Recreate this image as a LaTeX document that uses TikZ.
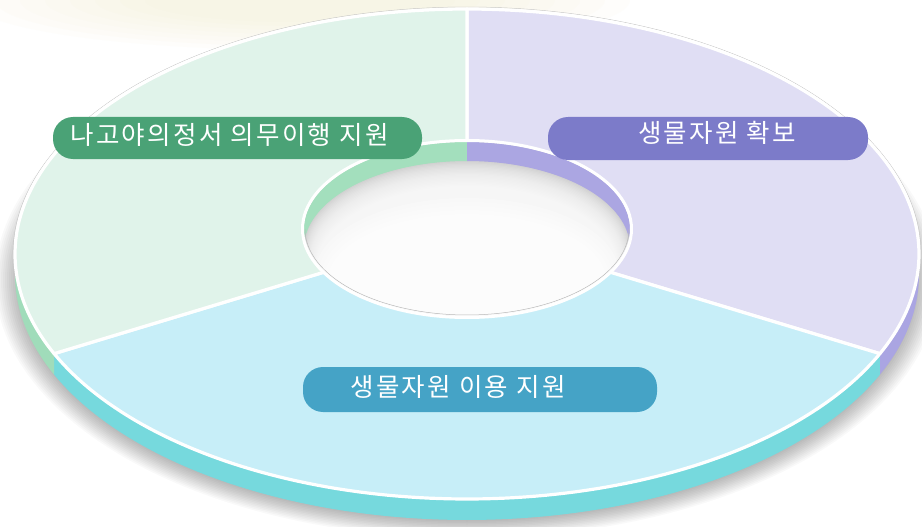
\documentclass[tikz,border=0pt]{standalone}
\usepackage{fontspec}
\newfontfamily\kr[LetterSpace=9]{Noto Sans CJK KR}
\definecolor{topG}{HTML}{E0F3EA}
\definecolor{topP}{HTML}{E0DEF4}
\definecolor{topC}{HTML}{C7EEF8}
\definecolor{sideG}{HTML}{A0DCBA}
\definecolor{sideP}{HTML}{AAA5E2}
\definecolor{sideC}{HTML}{76D9DD}
\definecolor{wallG}{HTML}{A3DFBD}
\definecolor{wallP}{HTML}{ABA6E2}
\definecolor{pillG}{HTML}{4AA276}
\definecolor{pillP}{HTML}{7C7BC9}
\definecolor{pillC}{HTML}{45A3C6}
\definecolor{holeGray}{HTML}{CDCDCD}
\definecolor{bgYel}{HTML}{EFEBC6}
\def\cx{467}\def\cy{254}\def\rx{452}\def\ry{245}\def\th{21}
\def\icx{467}\def\icy{229}\def\irx{163}\def\iry{87}\def\ith{19}
\begin{document}
\begin{tikzpicture}[x=1pt,y=-1pt,
  wedge/.style={draw=white,line width=3.2pt,line join=round},
  pill/.style={rounded corners=20pt,inner sep=0pt,draw=none},
  lbl/.style={text=white,font=\kr\fontsize{25.5}{30}\selectfont,inner sep=0pt}]
\useasboundingbox (0,0) rectangle (922,527);
\fill[white] (0,0) rectangle (922,527);
% faint yellowish texture top-left
\begin{scope}
\clip (0,0) rectangle (922,527);
\foreach \i in {0,...,7}
  \fill[bgYel,opacity=0.06] (300,0) ellipse [x radius={330-\i*25}, y radius={50-\i*4}];
\end{scope}
% shadow
\foreach \i in {0,...,15}
  \fill[black,opacity=0.025] (467,280) ellipse [x radius={472-\i*2}, y radius={258-\i*1.5}];
% outer side bands
\fill[sideP] plot[domain=0:24,samples=20] ({\cx+\rx*cos(\x)},{\cy+\ry*sin(\x)})
  -- plot[domain=24:0,samples=20] ({\cx+\rx*cos(\x)},{\cy+\th+\ry*sin(\x)}) -- cycle;
\fill[sideC] plot[domain=24:156,samples=90] ({\cx+\rx*cos(\x)},{\cy+\ry*sin(\x)})
  -- plot[domain=156:24,samples=90] ({\cx+\rx*cos(\x)},{\cy+\th+\ry*sin(\x)}) -- cycle;
\fill[sideG] plot[domain=156:180,samples=20] ({\cx+\rx*cos(\x)},{\cy+\ry*sin(\x)})
  -- plot[domain=180:156,samples=20] ({\cx+\rx*cos(\x)},{\cy+\th+\ry*sin(\x)}) -- cycle;
% thin gray rim on the top
\draw[gray!45,line width=0.5pt] plot[domain=180:360,samples=120] ({\cx+(\rx+2)*cos(\x)},{\cy+(\ry+2)*sin(\x)});
% top surface wedges
\coordinate (c) at (\icx,\icy);
\filldraw[wedge,fill=topP] (c) -- plot[domain=-90:24,samples=100] ({\cx+\rx*cos(\x)},{\cy+\ry*sin(\x)}) -- cycle;
\filldraw[wedge,fill=topC] (c) -- plot[domain=24:156,samples=100] ({\cx+\rx*cos(\x)},{\cy+\ry*sin(\x)}) -- cycle;
\filldraw[wedge,fill=topG] (c) -- plot[domain=156:270,samples=100] ({\cx+\rx*cos(\x)},{\cy+\ry*sin(\x)}) -- cycle;
% hole
\begin{scope}
\clip (\icx,\icy) ellipse [x radius=\irx, y radius=\iry];
\fill[holeGray] (\icx-\irx-5,\icy-\iry-5) rectangle (\icx+\irx+5,\icy+\iry+5);
\foreach \i in {0,...,32}
  \fill[white,opacity=0.1] (\icx,{\icy+19+\i*1.1}) ellipse [x radius={163-\i*0.6}, y radius={87-\i*0.2}];
\foreach \i in {0,...,9}
  \fill[white,opacity=0.25] (\icx,{\icy+45+\i*2}) ellipse [x radius={152-\i*3}, y radius={76-\i*2}];
\fill[wallG] plot[domain=180:270,samples=60] ({\icx+\irx*cos(\x)},{\icy+\iry*sin(\x)})
  -- plot[domain=270:180,samples=60] ({\icx+\irx*cos(\x)},{\icy+\ith+\iry*sin(\x)}) -- cycle;
\fill[wallP] plot[domain=270:360,samples=60] ({\icx+\irx*cos(\x)},{\icy+\iry*sin(\x)})
  -- plot[domain=360:270,samples=60] ({\icx+\irx*cos(\x)},{\icy+\ith+\iry*sin(\x)}) -- cycle;
\end{scope}
\draw[gray!55,line width=0.5pt] plot[domain=0:180,samples=80] ({\icx+(\irx-1)*cos(\x)},{\icy+(\iry-1)*sin(\x)});
\draw[white,line width=3pt] (\icx,\icy) ellipse [x radius=\irx+1.5, y radius=\iry+1.5];
% labels
\node[pill,fill=pillG,minimum width=369pt,minimum height=42pt] (pg) at (237.5,138) {};
\node[pill,fill=pillP,minimum width=320pt,minimum height=43pt] (pp) at (708,138.5) {};
\node[pill,fill=pillC,minimum width=354pt,minimum height=45pt] (pc) at (480,389.5) {};
\node[lbl] (tg) at (229.5,135) {나고야의정서 의무이행 지원};
\node[lbl] (tp) at (717,133) {생물자원 확보};
\node[lbl] (tc) at (458,386.5) {생물자원 이용 지원};
\end{tikzpicture}
\end{document}
